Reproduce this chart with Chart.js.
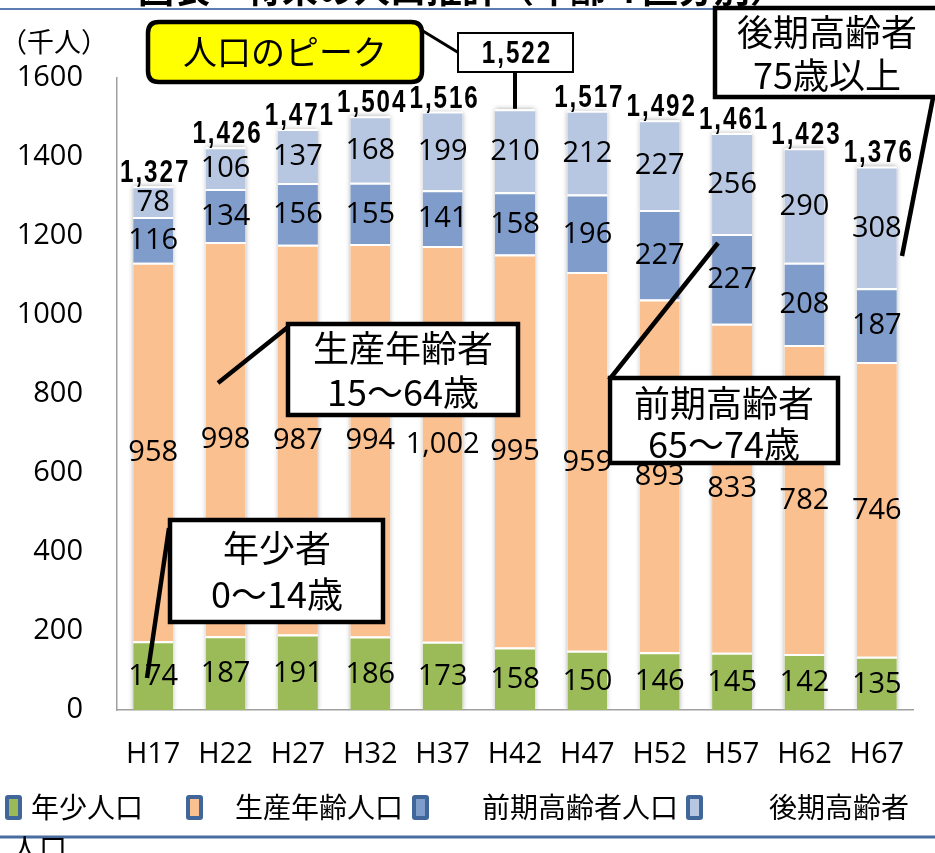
<!DOCTYPE html>
<html><head><meta charset="utf-8">
<script src="https://cdn.jsdelivr.net/npm/chart.js@4/dist/chart.umd.min.js"></script>
<style>html,body{margin:0;padding:0;background:#fff;}#wrap{width:935px;height:853px;position:relative;overflow:hidden;}</style>
</head><body><div id="wrap"><canvas id="c" width="935" height="853"></canvas></div>
<script>
const categories = ['H17','H22','H27','H32','H37','H42','H47','H52','H57','H62','H67'];
const youth = [174,187,191,186,173,158,150,146,145,142,135];
const working = [958,998,987,994,1002,995,959,893,833,782,746];
const earlyElderly = [116,134,156,155,141,158,196,227,227,208,187];
const lateElderly = [78,106,137,168,199,210,212,227,256,290,308];
const totals = [1327,1426,1471,1504,1516,1522,1517,1492,1461,1423,1376];
const yTicks = [0,200,400,600,800,1000,1200,1400,1600];
const seriesNames = ['年少人口','生産年齢人口','前期高齢者人口','後期高齢者人口'];
const seriesColors = ['#9BBB59','#FAC090','#7F9CCA','#B7C6E1'];
const peakIndex = 5;
const titleText = '図表　将来の人口推計（年齢４区分別）';
const unitText = '（千人）';

const NUM = '"Open Sans", "Liberation Sans", sans-serif';
const JP = '"Noto Sans CJK JP", sans-serif';
const BOLDNUM = '"Liberation Sans", Arial, sans-serif';
const fmt = v => v.toLocaleString('en-US');

function drawBoldNum(ctx, text, x, y, baseline) {
  ctx.save();
  ctx.font = 'bold 31px ' + BOLDNUM;
  ctx.textAlign = 'left';
  ctx.textBaseline = baseline;
  ctx.fillStyle = '#000';
  const ls = 2.5, sx = 0.78;
  const chars = text.split('');
  const ws = chars.map(c => ctx.measureText(c).width);
  const total = ws.reduce((a, b) => a + b, 0) + ls * (chars.length - 1);
  ctx.translate(x, y);
  ctx.scale(sx, 1);
  let cx = -total / 2;
  chars.forEach((c, i) => { ctx.fillText(c, cx, 0); cx += ws[i] + ls; });
  ctx.restore();
}
function rrect(ctx, x, y, w, h, r) {
  ctx.beginPath();
  ctx.moveTo(x + r, y);
  ctx.lineTo(x + w - r, y); ctx.quadraticCurveTo(x + w, y, x + w, y + r);
  ctx.lineTo(x + w, y + h - r); ctx.quadraticCurveTo(x + w, y + h, x + w - r, y + h);
  ctx.lineTo(x + r, y + h); ctx.quadraticCurveTo(x, y + h, x, y + h - r);
  ctx.lineTo(x, y + r); ctx.quadraticCurveTo(x, y, x + r, y);
  ctx.closePath();
}
function line(ctx, x1, y1, x2, y2, w) {
  ctx.save(); ctx.strokeStyle = '#000'; ctx.lineWidth = w; ctx.lineCap = 'butt';
  ctx.beginPath(); ctx.moveTo(x1, y1); ctx.lineTo(x2, y2); ctx.stroke(); ctx.restore();
}
function callout(ctx, x, y, w, h, lines, centers, size) {
  ctx.save();
  ctx.fillStyle = '#fff'; ctx.strokeStyle = '#000'; ctx.lineWidth = 4.5;
  ctx.fillRect(x, y, w, h); ctx.strokeRect(x, y, w, h);
  ctx.fillStyle = '#000'; ctx.font = size + 'px ' + JP;
  ctx.textAlign = 'center'; ctx.textBaseline = 'middle';
  lines.forEach((t, i) => ctx.fillText(t, centers[i][0], centers[i][1]));
  ctx.restore();
}

const shadowPlugin = {
  id: 'shadow',
  beforeDatasetsDraw(chart) {
    const ctx = chart.ctx, a = chart.chartArea;
    const m0 = chart.getDatasetMeta(0), m3 = chart.getDatasetMeta(3);
    ctx.save();
    ctx.beginPath(); ctx.rect(a.left + 1, a.top - 20, a.right - a.left, a.bottom - a.top + 19); ctx.clip();
    ctx.shadowColor = 'rgba(0,0,0,0.35)'; ctx.shadowBlur = 5; ctx.fillStyle = '#fff';
    m0.data.forEach((el, i) => {
      const top = m3.data[i].y;
      ctx.fillRect(el.x - el.width / 2, top, el.width, el.base - top);
    });
    ctx.restore();
  }
};

const labelPlugin = {
  id: 'labels',
  afterDatasetsDraw(chart) {
    const ctx = chart.ctx;
    ctx.save();
    ctx.font = '29px ' + NUM; ctx.fillStyle = '#000';
    ctx.textAlign = 'center'; ctx.textBaseline = 'middle';
    chart.data.datasets.forEach((ds, di) => {
      const meta = chart.getDatasetMeta(di);
      meta.data.forEach((el, i) => {
        ctx.fillText(fmt(ds.data[i]), el.x, (el.y + el.base) / 2 + 1);
      });
    });
    ctx.restore();
    const m3 = chart.getDatasetMeta(3);
    m3.data.forEach((el, i) => {
      if (i === peakIndex) return;
      drawBoldNum(ctx, fmt(totals[i]), el.x + 1, el.y - 4, 'alphabetic');
    });
  }
};

const decorPlugin = {
  id: 'decor',
  afterDraw(chart) {
    const ctx = chart.ctx;
    const xs = chart.scales.x, ys = chart.scales.y;
    ctx.save();
    ctx.font = 'bold 36px ' + JP; ctx.fillStyle = '#000'; ctx.textAlign = 'left'; ctx.textBaseline = 'alphabetic';
    ctx.fillText(titleText, 138, 3);
    ctx.strokeStyle = '#5B7DB1'; ctx.lineWidth = 2;
    ctx.beginPath(); ctx.moveTo(0, 9); ctx.lineTo(935, 9); ctx.stroke();
    ctx.font = '27px ' + JP; ctx.textBaseline = 'middle';
    ctx.fillText(unitText, 0, 42);
    ctx.restore();

    const px = xs.getPixelForValue(peakIndex), py = ys.getPixelForValue(totals[peakIndex]);
    line(ctx, px, 72, px, py, 4);
    line(ctx, 418, 28, 459, 53, 3);
    ctx.save();
    rrect(ctx, 148, 22, 274, 60, 11);
    ctx.fillStyle = '#FFFF00'; ctx.fill();
    ctx.lineWidth = 4.5; ctx.strokeStyle = '#000'; ctx.stroke();
    ctx.fillStyle = '#000'; ctx.font = '34px ' + JP; ctx.textAlign = 'center'; ctx.textBaseline = 'middle';
    ctx.fillText('人口のピーク', 285, 52);
    ctx.fillStyle = '#fff'; ctx.fillRect(458, 33, 115, 39);
    ctx.lineWidth = 2; ctx.strokeRect(458, 33, 115, 39);
    ctx.restore();
    drawBoldNum(ctx, fmt(totals[peakIndex]), 516, 54, 'middle');

    line(ctx, 933, 98, 902, 256, 4.5);
    callout(ctx, 715, 8, 240, 89, ['後期高齢者', '75歳以上'], [[827, 32], [827, 75]], 36);
    line(ctx, 288, 327, 218, 383, 4.5);
    callout(ctx, 288, 324, 230, 91, ['生産年齢者', '15～64歳'], [[403, 348], [403, 392]], 36);
    line(ctx, 718, 243, 609, 380, 4.5);
    callout(ctx, 610, 378, 228, 85, ['前期高齢者', '65～74歳'], [[724, 403], [724, 444]], 36);
    line(ctx, 169, 528, 147, 678, 4.5);
    callout(ctx, 170, 520, 213, 102, ['年少者', '0～14歳'], [[277, 548], [277, 594]], 36);

    ctx.save();
    const mx = [5, 186, 412, 686];
    const tx = [31, 235, 482, 769];
    ctx.font = '28px ' + JP; ctx.textAlign = 'left'; ctx.textBaseline = 'middle';
    seriesNames.forEach((n, i) => {
      rrect(ctx, mx[i], 795, 17, 25, 3);
      ctx.fillStyle = '#41679A'; ctx.fill();
      ctx.fillStyle = seriesColors[i]; ctx.fillRect(mx[i] + 4, 799, 9, 17);
      ctx.fillStyle = '#000';
      ctx.fillText(i === 3 ? n.slice(0, 5) : n, tx[i], 807);
    });
    ctx.strokeStyle = '#4A6D9F'; ctx.lineWidth = 3;
    ctx.beginPath(); ctx.moveTo(0, 837); ctx.lineTo(935, 837); ctx.stroke();
    ctx.fillStyle = '#000';
    ctx.fillText(seriesNames[3].slice(5), 11, 848);
    ctx.restore();
  }
};

const sets = [youth, working, earlyElderly, lateElderly].map((d, i) => ({
  label: seriesNames[i], data: d, backgroundColor: seriesColors[i],
  borderColor: '#fff', borderWidth: {top: 2, left: 0, right: 0, bottom: 0}, borderSkipped: false,
  categoryPercentage: 1, barPercentage: 0.553
}));

new Chart(document.getElementById('c'), {
  type: 'bar',
  data: {labels: categories, datasets: sets},
  options: {
    responsive: false, animation: false, devicePixelRatio: 1,
    layout: {padding: {top: 78, right: 22, left: 0, bottom: 0}},
    plugins: {legend: {display: false}, tooltip: {enabled: false}, title: {display: false}},
    scales: {
      x: {
        stacked: true,
        grid: {display: false, drawTicks: false},
        border: {display: true, color: '#A0A0A0', width: 1.5},
        ticks: {font: {family: NUM, size: 29}, color: '#000', padding: 27},
        afterFit(s) { s.height = 143; }
      },
      y: {
        stacked: true, min: 0, max: 1600,
        afterBuildTicks(s) { s.ticks = yTicks.map(v => ({value: v})); },
        grid: {display: false, drawTicks: false},
        border: {display: true, color: '#A0A0A0', width: 1.5},
        ticks: {font: {family: NUM, size: 29}, color: '#000', padding: 34, callback: v => String(v)},
        afterFit(s) { s.width = 117; }
      }
    }
  },
  plugins: [shadowPlugin, labelPlugin, decorPlugin]
});
</script></body></html>
